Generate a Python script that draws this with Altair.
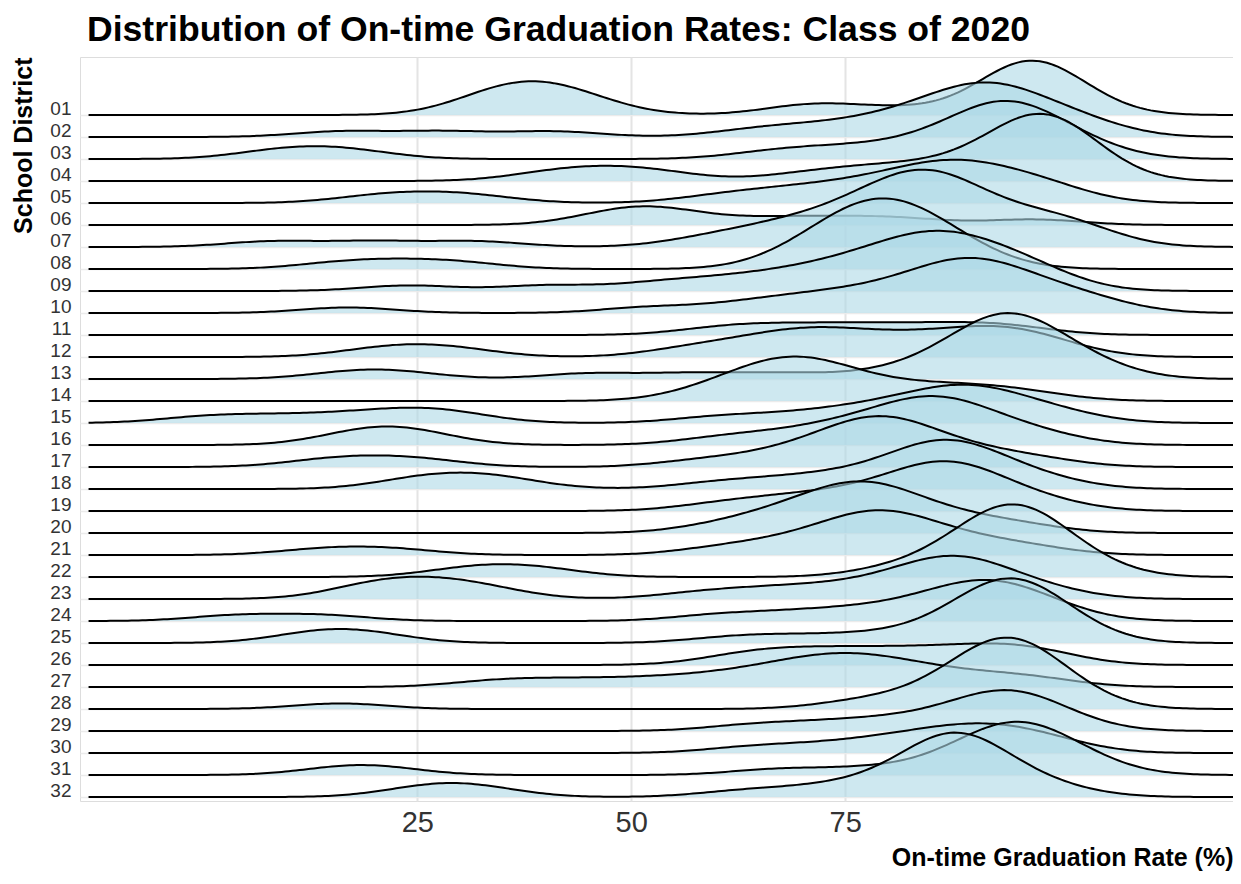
import altair as alt
import pandas as pd

# ---------------- data (estimated school-level on-time graduation rates, %) ----------------
districts = [f"{i:02d}" for i in range(1, 33)]

d01 = [32, 34, 36, 38, 39, 41, 43, 46, 70, 73, 82, 93, 94, 95, 95, 96, 97, 97, 98, 99, 101, 102]
d02 = [16, 28, 41, 64, 70, 75, 79, 82, 84, 86, 88, 89, 90, 91, 92, 93, 94, 95, 97, 99, 102, 104]
d03 = [8, 13, 18, 66, 72, 77, 82, 85, 88, 90, 91, 92, 93, 94, 94, 95, 96, 97, 99, 101, 104]
d04 = [40, 45, 49, 54, 70, 76, 80, 84, 88, 91, 93, 95, 96, 97, 97, 98, 98, 99, 99, 100, 101,
       102, 104]
d05 = [20, 26, 32, 60, 66, 70, 74, 77, 80, 82, 84, 86, 87, 88, 90, 91, 93, 96, 98, 100]
d06 = [47, 50, 53, 56, 66, 74, 82, 97]
d07 = [8, 20, 32, 58, 63, 66, 69, 71, 73, 75, 77, 78, 79, 80, 81, 82, 83, 84, 84, 85, 86, 86,
       87, 88, 89, 90, 92, 94, 97, 98, 100, 102, 104]
d08 = [16, 23, 30, 68, 71, 73, 74, 75, 76, 77, 78, 79, 79, 80, 81, 82, 83, 84, 85, 86, 88, 91]
d09 = [24, 40, 52, 58, 63, 67, 70, 73, 75, 77, 79, 80, 82, 83, 84, 85, 86, 87, 88, 89, 90, 92,
       94, 95, 97, 99]
d10 = [17, 52, 62, 67, 71, 74, 77, 80, 82, 84, 86, 87, 88, 89, 90, 91, 92, 93, 95, 97, 99, 102, 105]
d11 = [60, 66, 72, 78, 84, 90, 95]
d12 = [20, 25, 30, 56, 61, 65, 68, 70, 72, 74, 77, 80, 83, 86, 89, 91, 93, 95, 97, 100]
d13 = [17, 23, 45, 57, 68, 80, 85, 88, 90, 91, 92, 93, 93, 94, 94, 95, 96, 97, 98, 100, 102, 105]
d14 = [58, 62, 64, 66, 67, 68, 70, 71, 72, 74, 76, 80, 84, 88, 92, 97]
d15 = [0, 8, 16, 22, 26, 30, 60, 68, 74, 78, 81, 84, 86, 88, 89, 90, 92, 94, 97, 101]
d16 = [17, 20, 23, 26, 60, 66, 71, 74, 77, 79, 81, 83, 84, 85, 86, 87, 88, 90, 92, 95, 99]
d17 = [14, 20, 26, 58, 65, 69, 72, 74, 76, 77, 78, 79, 80, 81, 82, 84, 86, 89, 93, 98]
d18 = [24, 28, 32, 36, 60, 67, 72, 76, 80, 82, 84, 85, 86, 87, 88, 89, 90, 92, 95, 99]
d19 = [60, 66, 70, 74, 77, 80, 82, 84, 85, 86, 87, 88, 89, 90, 92, 95, 99]
d20 = [60, 65, 68, 70, 72, 74, 75, 76, 77, 78, 79, 80, 82, 84, 87, 91, 96]
d21 = [14, 22, 60, 66, 70, 73, 75, 77, 78, 79, 80, 81, 83, 85, 88, 92, 97]
d22 = [30, 35, 40, 80, 85, 88, 90, 91, 92, 93, 93, 94, 95, 95, 96, 96, 97, 98, 99, 101, 104]
d23 = [18, 21, 24, 27, 30, 34, 58, 65, 70, 75, 79, 82, 84, 86, 87, 88, 89, 90, 92, 95, 99]
d24 = [4, 14, 60, 68, 74, 79, 83, 86, 88, 90, 91, 92, 93, 95, 97, 100]
d25 = [12, 16, 20, 62, 70, 78, 84, 88, 90, 91, 92, 93, 94, 94, 95, 95, 96, 97, 98, 100, 102]
d26 = [62, 66, 70, 74, 78, 82, 86, 90, 93, 96, 99]
d27 = [34, 42, 50, 57, 62, 66, 69, 71, 73, 75, 77, 79, 81, 84, 88, 93, 98]
d28 = [16, 76, 82, 86, 88, 90, 91, 92, 93, 93, 94, 94, 95, 95, 96, 97, 98, 100, 102]
d29 = [64, 72, 78, 83, 87, 90, 92, 93, 94, 95, 96, 98, 101]
d30 = [64, 72, 78, 82, 85, 88, 90, 92, 94, 97, 100]
d31 = [16, 21, 67, 77, 85, 89, 91, 92, 93, 94, 95, 96, 97, 98, 99, 101, 104]
d32 = [25, 29, 33, 63, 71, 76, 80, 83, 85, 86, 86, 87, 88, 88, 89, 89, 90, 91, 93, 96, 100]

rates = [d01, d02, d03, d04, d05, d06, d07, d08, d09, d10, d11, d12, d13, d14, d15, d16,
         d17, d18, d19, d20, d21, d22, d23, d24, d25, d26, d27, d28, d29, d30, d31, d32]

x_ticks = [25, 50, 75]

rows = [{"district": d, "rate": v} for d, vals in zip(districts, rates) for v in vals]
df = pd.DataFrame(rows)

# ---------------- layout / style ----------------
N = len(districts)
X_DOMAIN = [-14.4, 120.3]
DENS_EXTENT = [-13.4, 120.3]
Y_DOMAIN = [0.818, 34.636]
BANDWIDTH = 5.5
RIDGE_SCALE = 3.45
FONT = "Liberation Sans"

x_enc = alt.X(
    "rate:Q",
    scale=alt.Scale(domain=X_DOMAIN, nice=False, zero=False),
    axis=alt.Axis(
        values=x_ticks, title="On-time Graduation Rate (%)", titleAnchor="end",
        titleFontSize=25, titleFontWeight="bold", titleColor="black", titleFont=FONT,
        titlePadding=8, labelFontSize=29, labelColor="#333333", labelFont=FONT,
        labelPadding=7, ticks=False, domain=False, grid=True, gridColor="#e4e4e4",
        gridWidth=2,
    ),
)
y_enc = alt.Y(
    "top:Q",
    scale=alt.Scale(domain=Y_DOMAIN, nice=False, zero=False),
    axis=alt.Axis(
        values=list(range(1, N + 1)),
        labelExpr=f"({N + 1} - datum.value) < 10 ? '0' + ({N + 1} - datum.value) : '' + ({N + 1} - datum.value)",
        title="School District", titleAnchor="end", titleFontSize=25,
        titleFontWeight="bold", titleColor="black", titleFont=FONT, titlePadding=13,
        labelFontSize=19, labelColor="#333333", labelFont=FONT, labelPadding=9,
        labelBaseline="alphabetic", ticks=False, domain=False, grid=True,
        gridColor="#ebebeb", gridWidth=1.6,
    ),
)

layers = []
for i, d in enumerate(districts):
    pos = N - i
    base = (
        alt.Chart(df)
        .transform_filter(alt.datum.district == d)
        .transform_density(
            "rate", as_=["rate", "density"], bandwidth=BANDWIDTH, counts=True,
            extent=DENS_EXTENT, steps=320,
        )
        .transform_calculate(top=f"{pos} + datum.density * {RIDGE_SCALE}", base=f"{pos}")
    )
    area = base.mark_area(color="#add8e6", opacity=0.6).encode(x=x_enc, y=y_enc, y2="base:Q")
    line = base.mark_line(color="black", strokeWidth=2).encode(x=x_enc, y=y_enc)
    layers += [area, line]

chart = (
    alt.layer(*layers)
    .properties(
        width=1153,
        height=744,
        autosize=alt.AutoSizeParams(type="none"),
        padding={"left": 72, "right": 0, "top": 49, "bottom": 70},
        title=alt.Title(
            "Distribution of On-time Graduation Rates: Class of 2020",
            anchor="start", frame="group", fontSize=35.6, fontWeight="bold",
            color="black", font=FONT, dx=7, offset=8,
        ),
    )
    .configure_view(stroke=None)
    .configure(background="white")
)

chart.save("out.html", embed_options={"renderer": "svg", "actions": False})
